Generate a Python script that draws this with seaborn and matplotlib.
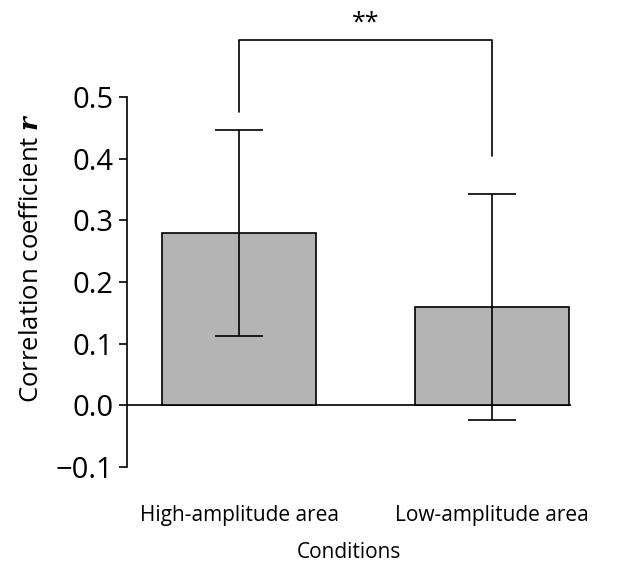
import matplotlib
matplotlib.use("Agg")
import matplotlib.pyplot as plt
import seaborn as sns
import pandas as pd

conditions = ["High-amplitude area", "Low-amplitude area"]
mean_r = [0.280, 0.159]
err_low = [0.167, 0.183]
err_high = [0.166, 0.184]

sns.set_style("ticks", {"text.color": "black", "axes.labelcolor": "black",
                        "xtick.color": "black", "ytick.color": "black",
                        "axes.edgecolor": "black"})
plt.rcParams["font.family"] = ["Open Sans", "DejaVu Sans"]
plt.rcParams["mathtext.fontset"] = "dejavuserif"

df = pd.DataFrame({"cond": conditions, "r": mean_r})

fig = plt.figure(figsize=(6.29, 5.69), dpi=100)
ax = fig.add_axes([0.202, 0.179, 0.705, 0.6505])

sns.barplot(data=df, x="cond", y="r", color="#b4b4b4", edgecolor="black",
            linewidth=1.2, width=0.61, saturation=1, ax=ax, zorder=2)
ax.errorbar(range(len(conditions)), mean_r, yerr=[err_low, err_high],
            fmt="none", ecolor="black", elinewidth=1.2, capsize=17,
            capthick=1.2, zorder=3)
ax.axhline(0, color="black", lw=1.2, zorder=1)

ax.set_ylim(-0.1, 0.5)
ax.set_xlim(-0.443, 1.31)
ax.set_yticks([-0.1, 0, 0.1, 0.2, 0.3, 0.4, 0.5])
ax.set_yticklabels(["\u22120.1", "0.0", "0.1", "0.2", "0.3", "0.4", "0.5"])
ax.tick_params(axis="y", labelsize=21, length=6, width=1.2, direction="out", pad=4)
ax.tick_params(axis="x", labelsize=15, length=0, pad=27)

for s in ["top", "right", "bottom"]:
    ax.spines[s].set_visible(False)
ax.spines["left"].set_linewidth(1.2)

ax.set_xlabel("Conditions", fontsize=15, labelpad=12)
ax.set_ylabel("Correlation coefficient $\\boldsymbol{r}$", fontsize=18.5)
ax.yaxis.set_label_coords(-0.187, 0.565)

# significance bracket
ax.plot([0, 0, 1, 1], [0.476, 0.593, 0.593, 0.404], color="black", lw=1.2,
        clip_on=False)
ax.text(0.5, 0.600, "**", ha="center", va="bottom", fontsize=18)

fig.savefig("out.png", dpi=100)
